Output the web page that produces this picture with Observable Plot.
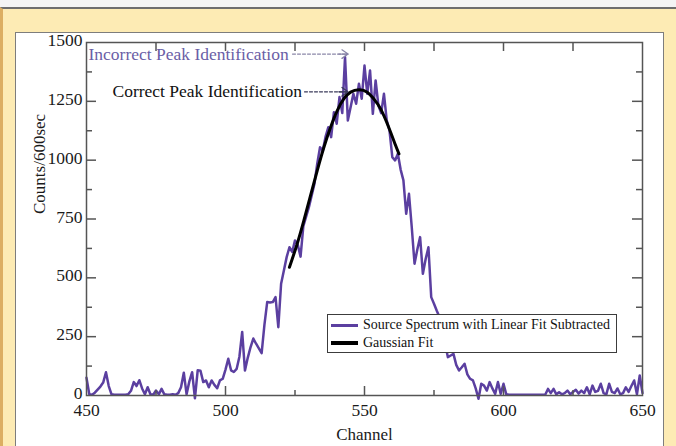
<!DOCTYPE html>
<html>
<head>
<meta charset="utf-8">
<script src="https://cdn.jsdelivr.net/npm/d3@7"></script>
<script src="https://cdn.jsdelivr.net/npm/@observablehq/plot@0.6"></script>
<style>
  html, body { margin: 0; padding: 0; width: 676px; height: 446px; overflow: hidden; background: #f4f4f4; }
  #page { position: absolute; left: 0; top: 7px; width: 676px; height: 439px; box-sizing: border-box;
          background: #fdebb4; border-top: 2px solid #6e6e6e; border-left: 3px solid #dcae62; }
  #panel { position: absolute; left: 15px; top: 32px; width: 649px; height: 430px; box-sizing: border-box;
           background: #fff; border: 1px solid #7d7d7d; }
  #chart { position: absolute; left: 0; top: 0; }
  #legend { position: absolute; left: 327px; top: 314px; width: 290px; height: 39px; box-sizing: border-box;
            border: 1px solid #3c3c3c; background: #fff; padding-top: 1px;
            font-family: "Liberation Serif", "Times New Roman", serif; font-size: 14px; color: #111; }
  #legend .row { display: flex; align-items: center; height: 18px; }
  #legend .sw { display: inline-block; width: 27px; margin-left: 3px; margin-right: 5px; }
</style>
</head>
<body>
<div id="page"></div>
<div id="panel"></div>
<div id="chart"></div>
<div id="legend"></div>
<script>
// Gamma-ray spectrum around the peak, one count value per channel (450 … 650)
const channelStart = 450;
const counts = [
  75, 5, 3, 12, 25, 38, 55, 99, 40, 5,
  3, 3, 3, 3, 3, 5, 20, 57, 40, 65,
  30, 5, 35, 5, 3, 21, 5, 28, 5, 3,
  3, 5, 3, 10, 35, 97, 5, 60, 99, -12,
  107, 105, 57, 64, 35, 64, 45, 31, 64, 71,
  110, 156, 107, 100, 113, 165, 270, 106, 160, 205,
  242, 220, 200, 180, 300, 397, 395, 397, 418, 290,
  475, 531, 588, 630, 610, 659, 640, 590, 720, 760,
  800, 850, 900, 985, 1055, 1041, 1100, 1140, 1098, 1204,
  1155, 1268, 1200, 1438, 1169, 1225, 1282, 1240, 1325, 1261,
  1402, 1282, 1381, 1197, 1339, 1232, 1200, 1282, 1169, 1126,
  1013, 999, 1027, 960, 914, 772, 857, 715, 560, 620,
  673, 517, 580, 630, 418, 390, 360, 333, 290, 220,
  163, 170, 177, 130, 106, 120, 135, 90, 71, 64,
  30, -14, 50, 42, 21, 57, 30, 7, 57, 7,
  50, 5, 3, 3, 3, 3, 3, 3, 3, 3,
  3, 3, 3, 3, 3, 3, 28, 10, 28, 5,
  14, 5, 10, 21, 5, 15, 24, 8, 21, 10,
  35, 5, 42, 15, 20, 50, 10, 5, 50, 15,
  10, 30, 5, 10, 35, 15, 40, 64, 5, 85,
  10
];

// Gaussian fit evaluated over the fitted window
const fitChannels = [523, 525.8, 528.2, 530.6, 533, 535.4, 537.8, 540.2, 542.6, 545, 548, 551, 553.5, 555.8, 558.7, 561.2, 562.4];
const fitCounts   = [545, 645, 744, 850, 956, 1055, 1140, 1211, 1261, 1289, 1299, 1289, 1258, 1218, 1140, 1062, 1027];

// Axis ticks
const xTicks = [450, 500, 550, 600, 650];
const xMinor = [475, 525, 575, 625];
const xMajorInner = [500, 550, 600];
const yTicks = [0, 250, 500, 750, 1000, 1250, 1500];
const yMajorInner = [250, 500, 750, 1000, 1250];
const yMinor = [125, 375, 625, 875, 1125, 1375];

// Series names and colours (shared by marks and legend)
const seriesNames = ["Source Spectrum with Linear Fit Subtracted", "Gaussian Fit"];
const seriesColors = ["#5b3fa0", "#000000"];
const seriesWidths = [2.5, 3];

// Annotation labels
const incorrectLabel = "Incorrect Peak Identification";
const correctLabel = "Correct Peak Identification";

const spectrum = counts.map((c, i) => ({channel: channelStart + i, counts: c}));
const fit = fitChannels.map((c, i) => ({channel: c, counts: fitCounts[i]}));

const peak = d3.greatest(spectrum, d => d.counts);        // tallest single channel
const fitTop = d3.greatest(fit, d => d.counts);           // top of the fitted curve

const width = 676, height = 446;
const margin = {left: 86, right: 34, top: 42, bottom: 51};
const innerW = width - margin.left - margin.right;
const innerH = height - margin.top - margin.bottom;
const axisColor = "#555";
const serif = "'Liberation Serif', 'Times New Roman', serif";
const plain = d3.format("d");

// dashed shaft from the end of a label to the peak channel, plus a solid open head
function pointer(datum, {x2, dy, insetStart, stroke}) {
  const shaft = Plot.arrow([datum], {x1: () => 450, y1: "counts", x2, y2: "counts", dy,
    insetStart, insetEnd: -3, headLength: 0, bend: 0,
    stroke, strokeWidth: 1.2, strokeDasharray: "3,2"});
  const head = Plot.arrow([datum], {x1: d => x2(d) - 8, y1: "counts", x2, y2: "counts", dy,
    insetStart: 16, insetEnd: -3, headLength: 9, headAngle: 70, bend: 0,
    stroke, strokeWidth: 1.3});
  return [shaft, head];
}

const chart = Plot.plot({
  width, height,
  marginLeft: margin.left, marginRight: margin.right,
  marginTop: margin.top, marginBottom: margin.bottom,
  style: {background: "transparent", fontFamily: serif, fontSize: "17px", color: "#1a1a1a"},
  x: {domain: [450, 650], axis: null},
  y: {domain: [0, 1500], axis: null},
  marks: [
    Plot.line(spectrum, {x: "channel", y: "counts", stroke: seriesColors[0], strokeWidth: seriesWidths[0]}),
    Plot.line(fit, {x: "channel", y: "counts", stroke: seriesColors[1], strokeWidth: seriesWidths[1], curve: "natural"}),

    Plot.frame({stroke: axisColor, strokeWidth: 1.5}),

    // inward ticks on all four sides
    Plot.tickY(yMajorInner, {y: d => d, insetRight: innerW - 10, stroke: axisColor, strokeWidth: 1.5}),
    Plot.tickY(yMinor, {y: d => d, insetRight: innerW - 6, stroke: axisColor, strokeWidth: 1.5}),
    Plot.tickY(yMajorInner, {y: d => d, insetLeft: innerW - 10, stroke: axisColor, strokeWidth: 1.5}),
    Plot.tickY(yMinor, {y: d => d, insetLeft: innerW - 6, stroke: axisColor, strokeWidth: 1.5}),
    Plot.tickX(xMajorInner, {x: d => d, insetTop: innerH - 9, stroke: axisColor, strokeWidth: 1.5}),
    Plot.tickX(xMinor, {x: d => d, insetTop: innerH - 5, stroke: axisColor, strokeWidth: 1.5}),
    Plot.tickX(xMajorInner, {x: d => d, insetBottom: innerH - 9, stroke: axisColor, strokeWidth: 1.5}),
    Plot.tickX(xMinor, {x: d => d, insetBottom: innerH - 9, stroke: axisColor, strokeWidth: 1.5}),

    Plot.axisY(yTicks, {tickSize: 0, tickPadding: 4, dy: -2, tickFormat: plain, label: null, fontSize: 17.5}),
    Plot.axisX(xTicks, {tickSize: 0, tickPadding: 8, tickFormat: plain, label: null, fontSize: 17.5}),

    Plot.text(["Counts/600sec"], {frameAnchor: "left", text: d => d, rotate: -90, dx: -47, dy: -5, fontSize: 17}),
    Plot.text(["Channel"], {frameAnchor: "bottom", text: d => d, dy: 44, fontSize: 17}),

    // annotation: the tallest channel
    Plot.text([peak], {x: () => 450, y: "counts", text: () => incorrectLabel, textAnchor: "start",
                       dx: 2, dy: -3, fontSize: 17.5, fill: "#6a5ea6"}),
    ...pointer(peak, {x2: d => d.channel, dy: -3, insetStart: 206, stroke: "#8a86a8"}),

    // annotation: top of the Gaussian fit
    Plot.text([fitTop], {x: () => 450, y: "counts", text: () => correctLabel, textAnchor: "start",
                         dx: 26, dy: 2, fontSize: 17.5, fill: "#111"}),
    ...pointer(fitTop, {x2: () => peak.channel, dy: 2, insetStart: 218, stroke: "#3a3a5a"})
  ]
});
document.getElementById("chart").appendChild(chart);

// legend box inside the plot area
const legend = d3.select("#legend");
seriesNames.forEach((name, i) => {
  const row = legend.append("div").attr("class", "row");
  row.append("span").attr("class", "sw")
    .style("background", seriesColors[i])
    .style("height", (i === 0 ? 3 : 4) + "px");
  row.append("span").text(name);
});
</script>
</body>
</html>
